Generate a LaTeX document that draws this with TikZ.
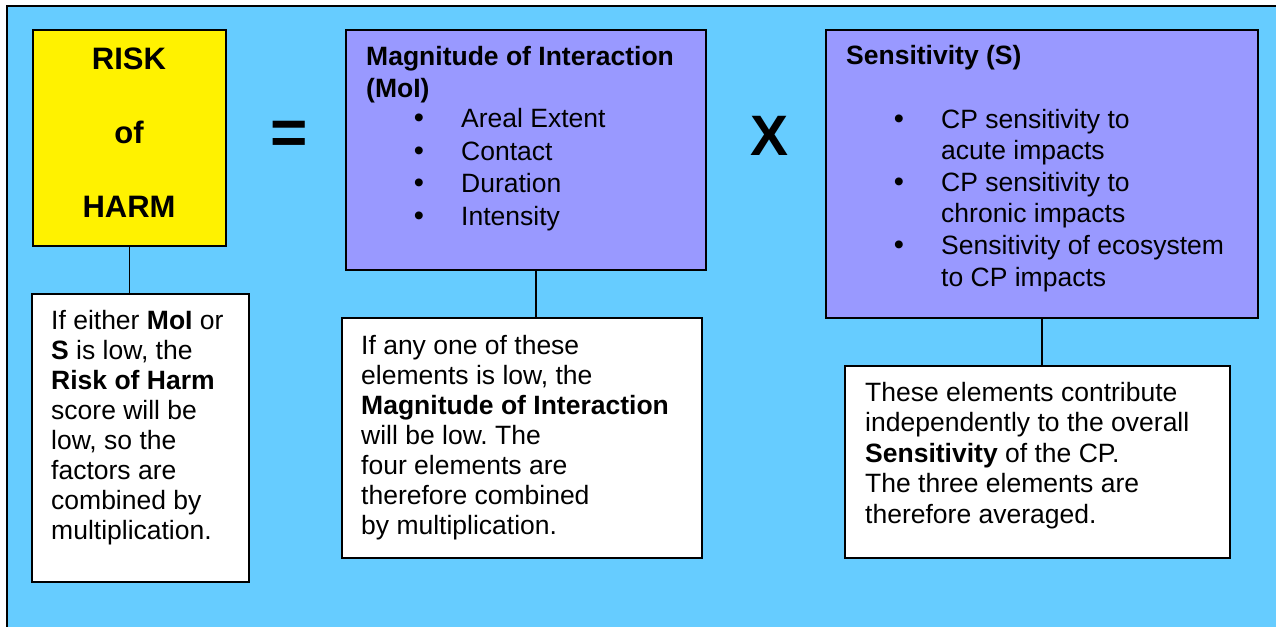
\documentclass[tikz,border=0pt]{standalone}
\usepackage{fontspec}
\setmainfont{Liberation Sans}
\frenchspacing
\definecolor{skyback}{RGB}{102,204,255}
\definecolor{lilac}{RGB}{153,153,255}
\tikzset{
  panel/.style={draw=black, line width=1.8pt, anchor=north west, inner sep=0pt},
  body/.style={inner sep=0pt, anchor=base west, align=left},
  title/.style={inner sep=0pt, font=\fontsize{31}{36}\selectfont\bfseries},
  link/.style={draw=black, line width=1.6pt},
}
\begin{document}
\begin{tikzpicture}[x=1pt, y=-1pt]
\useasboundingbox (0,0) rectangle (1276,626);
\draw[line width=2pt, fill=skyback] (6.7,5.7) rectangle (1300,650);

% the three main boxes
\node[panel, fill=yellow, minimum width=193pt, minimum height=216pt] (risk) at (32,29) {};
\node[panel, fill=lilac, minimum width=360pt, minimum height=240pt] (moi) at (345,29) {};
\node[panel, fill=lilac, minimum width=432pt, minimum height=288pt] (sens) at (825,29) {};

\node[title] (riskA) at (129,59) {RISK};
\node[title] (riskB) at (129,132) {of};
\node[title] (riskC) at (129,207) {HARM};

\node[inner sep=0pt, font=\fontsize{64}{70}\selectfont\bfseries] (eq) at (289.5,138) {=};
\node[inner sep=0pt, font=\fontsize{57}{64}\selectfont\bfseries] (times) at (769,135.5) {X};

% magnitude of interaction (base = last line)
\node[body, font=\fontsize{26.5}{32}\selectfont\bfseries] (moiHead) at (366,97) {Magnitude of Interaction\\(MoI)};
\foreach \i in {0,...,3}
  \node[inner sep=0pt, anchor=base, font=\fontsize{29}{32}\selectfont] (moiDot\i) at (419,127.5+32.5*\i) {\textbullet};
\node[body, font=\fontsize{26.5}{32.5}\selectfont] (moiList) at (461,225) {Areal Extent\\Contact\\Duration\\Intensity};

% sensitivity
\node[body, font=\fontsize{26.5}{32}\selectfont\bfseries] (sensHead) at (846,65) {Sensitivity (S)};
\foreach \i in {0,...,2}
  \node[inner sep=0pt, anchor=base, font=\fontsize{29}{32}\selectfont] (sensDot\i) at (899,128+63.2*\i) {\textbullet};
\node[body, font=\fontsize{26.5}{31.6}\selectfont] (sensList) at (941,286)
  {CP sensitivity to\\acute impacts\\CP sensitivity to\\chronic impacts\\Sensitivity of ecosystem\\to CP impacts};

% notes underneath
\node[panel, fill=white, minimum width=217pt, minimum height=288pt] (riskNote) at (31,293) {};
\node[panel, fill=white, minimum width=360pt, minimum height=240pt] (moiNote) at (341,317) {};
\node[panel, fill=white, minimum width=385pt, minimum height=192pt] (sensNote) at (844,365) {};

\draw[link] (risk.south) -- (risk.south |- riskNote.north);
\draw[link] ([xshift=10pt]moi.south) -- ([xshift=10pt]moi.south |- moiNote.north);
\draw[link] (sens.south) -- (sens.south |- sensNote.north);

\node[body, font=\fontsize{26.5}{30}\selectfont] (riskText) at (51,539)
  {If either \textbf{MoI} or\\\textbf{S} is low, the\\\textbf{Risk of Harm}\\score will be\\low, so the\\factors are\\combined by\\multiplication.};
\node[body, font=\fontsize{26.5}{30}\selectfont] (moiText) at (361,534)
  {If any one of these\\elements is low, the\\\textbf{Magnitude of Interaction}\\will be low. The\\four elements are\\therefore combined\\by multiplication.};
\node[body, font=\fontsize{26.5}{30.5}\selectfont] (sensText) at (865,523)
  {These elements contribute\\independently to the overall\\\textbf{Sensitivity} of the CP.\\The three elements are\\therefore averaged.};
\end{tikzpicture}
\end{document}
